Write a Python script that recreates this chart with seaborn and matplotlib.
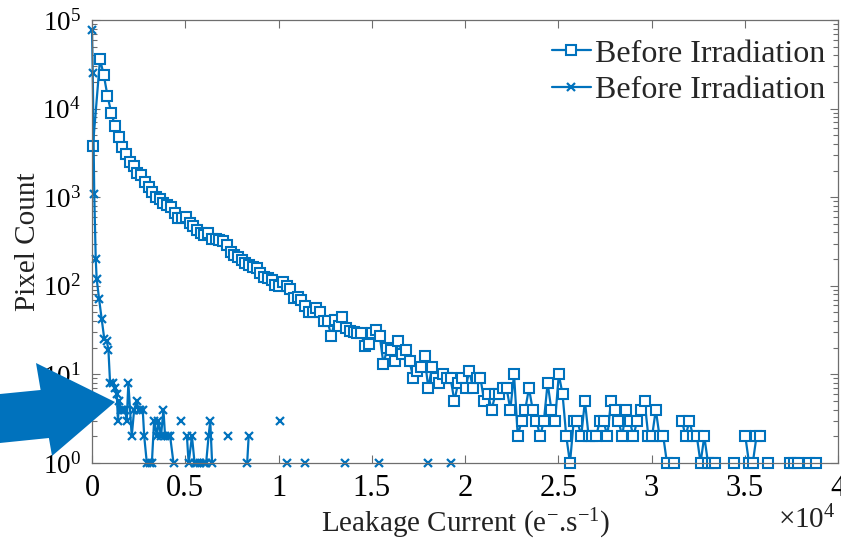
import numpy as np
import pandas as pd
import matplotlib
matplotlib.use("Agg")
import matplotlib.pyplot as plt
import seaborn as sns
from matplotlib.lines import Line2D
from matplotlib.patches import Polygon
from matplotlib.ticker import LogLocator, NullFormatter, FixedLocator

# ---------------- data ----------------
legend_labels = ["Before Irradiation", "Before Irradiation"]
x_ticks = [0, 0.5, 1, 1.5, 2, 2.5, 3, 3.5, 4]
x_tick_labels = ["0", "0.5", "1", "1.5", "2", "2.5", "3", "3.5", "4"]

# square-marker series: histogram bins (leakage current in units of 1e4 e-/s)
bin_width = 0.02
sq_first_x = 0.005
sq_start_x = 0.043
sq_counts = [
    3800, 36000, 24000, 14000, 9000, 6400, 4800, 3700, 3050, 2500,
    2250, 1900, 1780, 1500, 1300, 1150, 1000, 950, 870, 820,
    780, 660, 590, 590, 600, 510, 470, 430, 390, 375,
    395, 340, 335, 325, 320, 290, 240, 220, 210, 195,
    180, 170, 165, 158, 140, 125, 122, 116, 102, 100,
    110, 100, 92, 72, 75, 70, 59, 51, 51, 56,
    51, 40, 40, 27, 41, 35, 44, 33, 31, 30,
    29, 29, 21, 22, 29, 32, 27, 13, 20, 19,
    14, 24, 17, 19, 14, 9, 11, 12, 16, 7,
    12, 9, 8, 10, 9, 9, 5, 8, 9, 7,
    11, 7, 9, 9, 5, 6, 4, 6, 6, 7,
    7, 4, 10, 2, 3, 4, 7, 4, 3, 2,
    3, 8, 4, 3, 10, 6, 2, 1, 3, 3,
    2, 5, 2, 2, 2, 3, 3, 2, 5, 4,
    3, 2, 4, 3, 2, 3, 4, 5, 2, 2,
    4, 2, 2, 1, 0, 1, 0, 3, 2, 3,
    2, 2, 1, 2, 1, 1, 1, 0, 0, 0,
    0, 1, 0, 0, 2, 1, 1, 2, 2, 0,
    1, 0, 0, 0, 0, 0, 1, 1, 1, 0,
    0, 1, 0, 1,
]

# cross-marker series (x in units of 1e4 e-/s); zero counts break the line
cr_x = [0.000, 0.004, 0.012, 0.020, 0.025, 0.038, 0.052, 0.066, 0.079, 0.088,
        0.097, 0.110, 0.124, 0.133, 0.139, 0.146, 0.153, 0.162, 0.170, 0.178,
        0.186, 0.195, 0.213, 0.226, 0.240, 0.250, 0.258, 0.272, 0.280, 0.294,
        0.312, 0.321, 0.333, 0.348, 0.356, 0.370, 0.383, 0.392, 0.405, 0.419,
        0.437, 0.455, 0.477, 0.495, 0.509, 0.518, 0.536, 0.550, 0.563, 0.580,
        0.598, 0.612, 0.625, 0.634, 0.644, 0.690, 0.727, 0.780, 0.832, 0.840,
        0.920, 1.007, 1.027, 1.047, 1.090, 1.140, 1.250, 1.355, 1.450, 1.538,
        1.670, 1.801, 1.860, 1.925]
cr_counts = [77000, 25000, 1100, 200, 120, 71, 42, 25, 24, 19,
             8, 8, 7, 6, 3, 5, 4, 4, 4, 4,
             3, 8, 2, 4, 5, 4, 4, 4, 2, 1,
             1, 1, 3, 2, 3, 2, 4, 2, 2, 2,
             1, 0, 3, 0, 2, 1, 2, 1, 1, 1,
             1, 1, 2, 3, 1, 0, 2, 0, 1, 2,
             0, 3, 0, 1, 0, 1, 0, 1, 0, 1,
             0, 1, 0, 1]

sq_x = [sq_first_x] + [sq_start_x + bin_width * i for i in range(len(sq_counts) - 1)]


def to_frame(x, counts):
    df = pd.DataFrame({"x": x, "count": counts})
    df["seg"] = (df["count"] == 0).cumsum()
    return df[df["count"] > 0].reset_index(drop=True)


sq_df = to_frame(sq_x, sq_counts)
cr_df = to_frame(cr_x, cr_counts)

# ---------------- style ----------------
sns.set_theme(style="ticks")
plt.rcParams["font.family"] = ["Liberation Serif", "DejaVu Serif"]
plt.rcParams["mathtext.fontset"] = "custom"
plt.rcParams["mathtext.rm"] = "Liberation Serif"
plt.rcParams["mathtext.it"] = "Liberation Serif:italic"
plt.rcParams["mathtext.bf"] = "Liberation Serif:bold"

blue = "#0072BD"
axis_grey = "#6e6e6e"

fig = plt.figure(figsize=(8.41, 5.45), dpi=100)
ax = fig.add_axes([92 / 841, 1 - 463 / 545, (838 - 92) / 841, (463 - 20) / 545])

sns.lineplot(data=sq_df, x="x", y="count", units="seg", estimator=None, sort=True,
             ax=ax, color=blue, lw=1.6, marker="s", markersize=6.5,
             markerfacecolor="white", markeredgecolor=blue, markeredgewidth=1.5,
             legend=False, clip_on=False)
sns.lineplot(data=cr_df, x="x", y="count", units="seg", estimator=None, sort=True,
             ax=ax, color=blue, lw=1.6, marker="x", markersize=6,
             markeredgecolor=blue, markeredgewidth=1.6,
             legend=False, clip_on=False)

ax.set_yscale("log")
ax.set_xlim(0, 4)
ax.set_ylim(1, 1e5)
ax.xaxis.set_major_locator(FixedLocator(x_ticks))
ax.set_xticklabels(x_tick_labels)
ax.yaxis.set_major_locator(LogLocator(base=10, numticks=10))
ax.yaxis.set_minor_locator(LogLocator(base=10, subs=np.arange(2, 10), numticks=20))
ax.yaxis.set_minor_formatter(NullFormatter())

ax.tick_params(which="both", direction="in", top=True, right=True,
               color=axis_grey, labelcolor="black")
ax.tick_params(axis="x", labelsize=22)
ax.tick_params(axis="y", labelsize=19.5)
ax.tick_params(which="major", length=6, width=0.8, pad=8)
ax.tick_params(which="minor", length=3.5, width=0.8)
for sp in ax.spines.values():
    sp.set_color(axis_grey)
    sp.set_linewidth(0.9)
    sp.set_visible(True)

ax.set_xlabel(r"Leakage Current (e$^{\mathregular{-}}$.s$^{\mathregular{-1}}$)",
              fontsize=21, color="#222222")
ax.set_ylabel("Pixel Count", fontsize=21, color="#222222")
ax.xaxis.set_label_coords(0.5, -0.098)
ax.yaxis.set_label_coords(-0.068, 0.5)

ax.text(0.997, -0.128, "×10$^{4}$", transform=ax.transAxes, ha="right",
        va="center", fontsize=21, color="#222222")

handles = [
    Line2D([0], [0], color=blue, lw=1.6, marker="s", markersize=6.5,
           markerfacecolor="white", markeredgecolor=blue, markeredgewidth=1.5),
    Line2D([0], [0], color=blue, lw=1.6, marker="x", markersize=6,
           markeredgecolor=blue, markeredgewidth=1.6),
]
ax.legend(handles, legend_labels, loc="upper right", bbox_to_anchor=(1.009, 1.0),
          frameon=False, fontsize=23,
          handlelength=1.2, handletextpad=0.15, labelspacing=0.22,
          borderaxespad=0.4, borderpad=0.2)

# annotation arrow (figure pixel coordinates, y from the top)
arrow_px = [(-5, 394.5), (40.6, 390), (36, 363), (115, 402), (52, 456), (48.9, 438), (-5, 443.5)]
arrow_pts = [(x / 841, 1 - y / 545) for x, y in arrow_px]
fig.add_artist(Polygon(arrow_pts, closed=True, transform=fig.transFigure,
                       facecolor=blue, edgecolor="none", zorder=20))

fig.savefig("out.png", dpi=100)
